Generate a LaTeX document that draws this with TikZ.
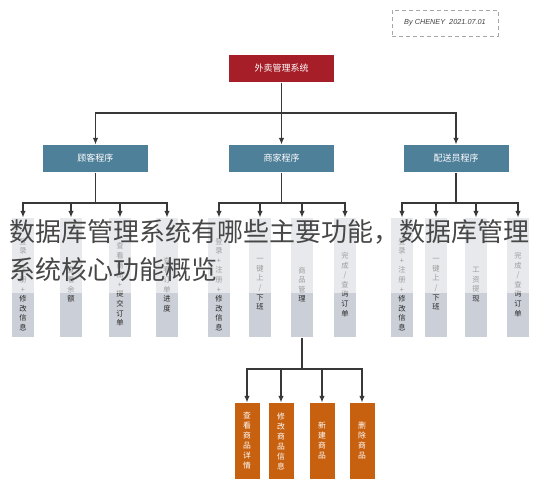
\documentclass[tikz,border=0pt]{standalone}
\usepackage{fontspec}
\setmainfont{Noto Sans CJK SC}
\newfontfamily\sigfont{Liberation Sans}
\usetikzlibrary{arrows,arrows.meta,positioning}

\definecolor{rootred}{HTML}{A51E28}
\definecolor{progblue}{HTML}{4F8099}
\definecolor{leafgray}{HTML}{CBCFD7}
\definecolor{goodsorange}{HTML}{C8610F}
\definecolor{linegray}{HTML}{383838}

\begin{document}
\begin{tikzpicture}[x=1pt,y=-1pt,>={Latex[length=6.5pt,width=5.5pt]},line width=1.1pt]
\useasboundingbox (0,0) rectangle (542,490);

\tikzset{
  progbox/.style={minimum width=105pt,minimum height=27pt,inner sep=0pt,text=white,
    font=\fontsize{9}{10}\selectfont},
  link/.style={draw=linegray,line width=1.1pt},
  arr/.style={link,->},
  leafbox/.style={fill=leafgray,minimum width=22pt,minimum height=119pt,inner sep=0pt},
  leaftext/.style={align=center,inner sep=0pt,text=black!85,font=\fontsize{7.3}{9.6}\selectfont},
  goodsbox/.style={fill=goodsorange,minimum width=25pt,minimum height=76pt,inner sep=0pt,
    align=center,text=white,font=\fontsize{7.8}{10}\selectfont},
  bigtitle/.style={anchor=west,inner sep=0pt,text=black!72,font=\fontsize{26}{30}\selectfont}
}

\def\leaf#1#2#3{
	\node[leafbox] (#1) at (#2,277.5) {};
	\node[leaftext] (#1-t) at ([yshift=-7pt]#1.center) {#3};
	\fill[white,opacity=0.55] (#1.north west) rectangle ([yshift=45pt]#1.south east);
}

\node[draw=gray!70,dash pattern=on 4pt off 3pt,line width=0.8pt,
  minimum width=106pt,minimum height=26pt,text=black!75,
  font=\sigfont\itshape\fontsize{7.3}{8}\selectfont] (sig) at (445,23) {By CHENEY\ \ 2021.07.01};

\node[progbox,fill=rootred] (root) at (281.5,68.5) {外卖管理系统};
\node[progbox,fill=progblue] (cust) at (95.5,158.5) {顾客程序};
\node[progbox,fill=progblue] (shop) at (281.5,158.5) {商家程序};
\node[progbox,fill=progblue] (rider) at (456,158.5) {配送员程序};

\coordinate (top) at (281.5,113);
\draw[link] (root) -- (top);
\draw[arr] (top) -| (cust);
\draw[arr] (top) -- (shop);
\draw[arr] (top) -| (rider);

% customer
\leaf{c1}{23}{登\\录\\+\\注\\册\\+\\修\\改\\信\\息}
\leaf{c2}{71}{查\\看\\余\\额}
\leaf{c3}{120}{查\\看\\商\\品\\+\\提\\交\\订\\单}
\leaf{c4}{167}{查\\看\\订\\单\\进\\度}

% shop
\leaf{s1}{219}{登\\录\\+\\注\\册\\+\\修\\改\\信\\息}
\leaf{s2}{260}{一\\键\\上\\/\\下\\班}
\leaf{s3}{302}{商\\品\\管\\理}
\leaf{s4}{345}{完\\成\\/\\查\\询\\订\\单}

% rider
\leaf{r1}{402}{登\\录\\+\\注\\册\\+\\修\\改\\信\\息}
\leaf{r2}{436}{一\\键\\上\\/\\下\\班}
\leaf{r3}{476}{工\\资\\提\\现}
\leaf{r4}{518}{完\\成\\/\\查\\询\\订\\单}

\coordinate (cbar) at (95.5,203);
\coordinate (sbar) at (281.5,203);
\coordinate (rbar) at (456,203);
\draw[link] (cust) -- (cbar);
\draw[link] (shop) -- (sbar);
\draw[link] (rider) -- (rbar);
\foreach \n in {c1,c2,c3,c4} \draw[arr] (cbar) -| (\n);
\foreach \n in {s1,s2,s3,s4} \draw[arr] (sbar) -| (\n);
\foreach \n in {r1,r2,r3,r4} \draw[arr] (rbar) -| (\n);

% goods
\node[goodsbox] (g1) at (247,441) {查\\看\\商\\品\\详\\情};
\node[goodsbox] (g2) at (281,441) {修\\改\\商\\品\\信\\息};
\node[goodsbox] (g3) at (322,441) {新\\建\\商\\品};
\node[goodsbox] (g4) at (362,441) {删\\除\\商\\品};

\coordinate (gbar) at (302,369);
\draw[link] (s3) -- (gbar);
\foreach \n in {g1,g2,g3,g4} \draw[arr] (gbar) -| (\n);

\node[bigtitle] (wm1) at (9,232) {数据库管理系统有哪些主要功能，数据库管理};
\node[bigtitle] (wm2) at (9,270) {系统核心功能概览};

\end{tikzpicture}
\end{document}
